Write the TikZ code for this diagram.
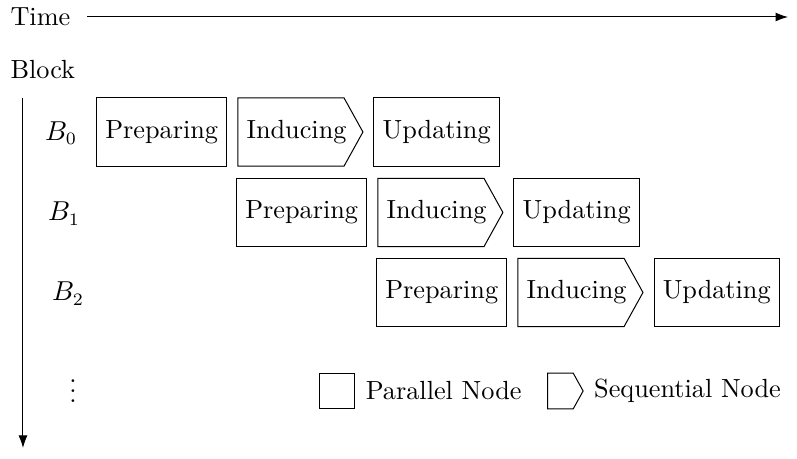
\documentclass[tikz,border=0pt]{standalone}
\usepackage{amsmath,amssymb}
\usetikzlibrary{arrows,arrows.meta,positioning,shapes}

\begin{document}
\begin{tikzpicture}[scale=1,node distance=0.14cm,
every node/.style={font=\fontsize{10.5pt}{12.6pt}\selectfont},
par/.style={draw,minimum height=0.96cm,inner xsep=3.5pt},
seq/.style={draw,signal,signal to=east,signal pointer angle=122,minimum height=0.96cm,inner xsep=3.5pt,execute at end node={\hspace*{-4.5pt}}},
lbl/.style={anchor=west,inner sep=0}]
\useasboundingbox (0,0) rectangle (11.205,6.453);
\node[lbl] (time) at (0.141,6.214) {Time};
\node[lbl] (block) at (0.141,5.469) {Block};
\coordinate (t0) at (1.223,6.214);
\coordinate (t1) at (11.079,6.214);
\coordinate (a0) at (0.323,5.075);
\coordinate (a1) at (0.323,0.155);
\draw[-{Latex[length=5pt,width=3.6pt]}] (t0)--(t1);
\draw[-{Latex[length=5pt,width=3.6pt]}] (a0)--(a1);
% blocks
\node (b0) at (0.858,4.58) {$B_0$};
\node (b1) at (0.900,3.45) {$B_1$};
\node (b2) at (0.956,2.325) {$B_2$};
\node (dots) at (1.026,1.054) {$\vdots$};
\node[par,anchor=west] (p0) at (1.350,4.597) {Preparing};
\node[seq,right=of p0] (i0) {Inducing};
\node[par,right=of i0] (u0) {Updating};
\node[par,anchor=west] (p1) at (3.318,3.466) {Preparing};
\node[seq,right=of p1] (i1) {Inducing};
\node[par,right=of i1] (u1) {Updating};
\node[par,anchor=west] (p2) at (5.287,2.341) {Preparing};
\node[seq,right=of p2] (i2) {Inducing};
\node[par,right=of i2] (u2) {Updating};
% legend
\node[par,minimum width=0.5cm,minimum height=0.5cm,inner sep=0] (lp) at (4.738,0.956) {};
\node[lbl,right=of lp] (lpt) {Parallel Node};
\node[seq,minimum width=0.5cm,minimum height=0.5cm,inner sep=0,execute at end node={},anchor=west] (ls) at (7.691,0.956) {};
\node[lbl,right=of ls] (lst) {Sequential Node};
\end{tikzpicture}
\end{document}
